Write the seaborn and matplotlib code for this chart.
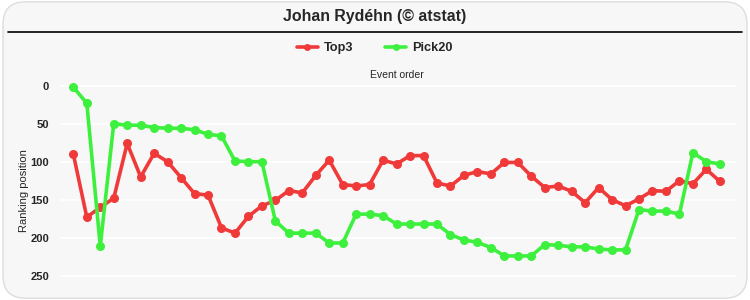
import numpy as np
import pandas as pd
import matplotlib
matplotlib.use("Agg")
import matplotlib.pyplot as plt
import seaborn as sns
from matplotlib.patches import FancyBboxPatch
from matplotlib.lines import Line2D

series_names = ["Top3", "Pick20"]
top3 = [90, 173, 160, 148, 76, 120, 89, 100, 121, 142, 144, 187, 194, 172, 158,
        151, 138, 141, 118, 98, 130, 132, 130, 98, 103, 92, 92, 128, 132, 118,
        113, 116, 101, 101, 119, 134, 132, 139, 154, 134, 150, 158, 149, 138,
        139, 125, 129, 110, 126]
pick20 = [2, 23, 211, 50, 52, 52, 55, 56, 56, 58, 64, 66, 99, 100, 100,
          178, 194, 194, 194, 207, 207, 169, 169, 171, 182, 182, 182, 182, 196, 203,
          206, 213, 224, 224, 224, 209, 210, 212, 212, 215, 216, 216, 163, 165,
          165, 169, 88, 100, 103]
y_ticks = [0, 50, 100, 150, 200, 250]
colors = ["#f03a3a", "#3ef03e"]

events = np.arange(1, len(top3) + 1)
df = pd.concat([
    pd.DataFrame({"event": events, "rank": top3, "series": series_names[0]}),
    pd.DataFrame({"event": events, "rank": pick20, "series": series_names[1]}),
])

sns.set_style("white")
plt.rcParams["font.family"] = ["Liberation Sans", "DejaVu Sans"]

fig = plt.figure(figsize=(7.5, 3.0), dpi=100)
fig.patch.set_facecolor("white")
bg = FancyBboxPatch((0.004, 0.006), 0.992, 0.988,
                    boxstyle="round,pad=0,rounding_size=0.03",
                    transform=fig.transFigure, facecolor="#f7f7f7",
                    edgecolor="#dddddd", linewidth=1, zorder=-10,
                    mutation_aspect=2.5)
fig.patches.append(bg)

ax = fig.add_axes([60 / 750, 1 - 287.1 / 300, 676 / 750, (287.1 - 81.9) / 300])
ax.set_facecolor("#f7f7f7")

sns.lineplot(data=df, x="event", y="rank", hue="series", palette=colors,
             marker="o", markersize=6.5, markeredgewidth=0, linewidth=2.6,
             ax=ax, legend=False, zorder=3)

ax.set_xlim(0.01, 50.2)
ax.set_ylim(265, -5)
ax.set_yticks(y_ticks)
ax.set_yticklabels([str(t) for t in y_ticks], fontweight="bold", fontsize=8)
ax.tick_params(axis="y", length=0, pad=8)
ax.set_xticks([])
ax.grid(axis="y", color="white", linewidth=1.2)
ax.set_axisbelow(True)
for s in ax.spines.values():
    s.set_visible(False)
ax.set_xlabel("")
ax.set_ylabel("Ranking position", fontsize=8)
ax.yaxis.set_label_coords(-0.046, 0.47)

fig.text(0.5, 1 - 17 / 300, "Johan Rydéhn (© atstat)", ha="center", va="center",
         fontsize=11.4, fontweight="bold")
fig.add_artist(Line2D([8 / 750, 742 / 750], [1 - 32 / 300, 1 - 32 / 300],
                      color="black", linewidth=1.2, transform=fig.transFigure))
fig.text(397 / 750, 1 - 75 / 300, "Event order", ha="center", va="center", fontsize=7.5)

handles = [Line2D([0], [0], color=c, linewidth=2.6, marker="o", markersize=5,
                  markeredgewidth=0) for c in colors]
fig.legend(handles, series_names, loc="center", bbox_to_anchor=(0.5, 1 - 48 / 300),
           ncol=2, frameon=False, prop={"weight": "bold", "size": 9.2},
           handlelength=1.6, columnspacing=2.5, handletextpad=0.5)

fig.savefig("out.png", dpi=100)
